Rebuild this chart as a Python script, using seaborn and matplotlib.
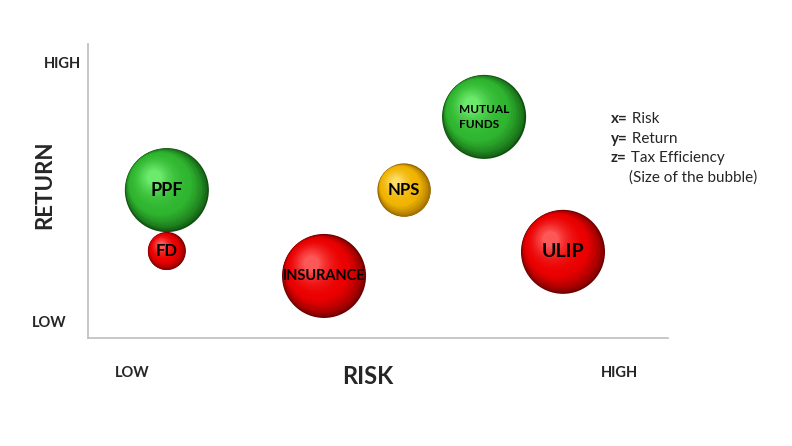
import numpy as np
import pandas as pd
import matplotlib
matplotlib.use('Agg')
import matplotlib.pyplot as plt
import matplotlib.transforms as mtransforms
from matplotlib.colors import to_rgb
import seaborn as sns

products = ['PPF', 'FD', 'INSURANCE', 'NPS', 'MUTUAL\nFUNDS', 'ULIP']
risk = [1.36, 1.36, 4.07, 5.45, 6.83, 8.19]
ret = [5.03, 2.96, 2.11, 5.03, 7.52, 2.93]
tax_eff = [5, 1, 5, 2, 5, 5]
colour = ['green', 'red', 'red', 'yellow', 'green', 'red']
label_size = [13, 12, 10.5, 12, 8.5, 14]

shades = {
    'green': ('#0f4f0f', '#2fb52f', '#70ee70'),
    'red': ('#6a0000', '#ea0000', '#ff6060'),
    'yellow': ('#8a5c00', '#f0b400', '#ffe070'),
}

df = pd.DataFrame({'product': products, 'risk': risk, 'ret': ret,
                   'tax_eff': tax_eff, 'colour': colour})

sns.set_style('white')
plt.rcParams['font.family'] = ['Lato', 'DejaVu Sans']

fig = plt.figure(figsize=(7.92, 4.46), dpi=100)
ax = fig.add_axes([0.1111, 0.2422, 0.7323, 0.6592])

base_pal = {k: v[0] for k, v in shades.items()}
sns.scatterplot(data=df, x='risk', y='ret', size='tax_eff', sizes=(750, 3660),
                hue='colour', palette=base_pal, linewidth=0, legend=False, ax=ax, zorder=2)
sizes = ax.collections[0].get_sizes()

# fake 3d shading: shrinking circles moving to the upper left
n = 32
for i, row in df.iterrows():
    s = sizes[i]
    r_pt = np.sqrt(s) / 2
    dark, mid, light = [np.array(to_rgb(c)) for c in shades[row['colour']]]
    for k in range(1, n):
        t = k / n
        if t < 0.3:
            c = dark + (mid - dark) * (t / 0.3) ** 0.6
        else:
            c = mid + (light - mid) * ((t - 0.3) / 0.7) ** 1.8
        f = 1 - 0.85 * t
        d = 0.45 * (1 - (1 - t) ** 2) * r_pt / 72 * 0.707
        tr = ax.transData + mtransforms.ScaledTranslation(-d, d, fig.dpi_scale_trans)
        ax.scatter([row['risk']], [row['ret']], s=s * f ** 2, color=c,
                   linewidths=0, transform=tr, zorder=3 + k)
    ax.text(row['risk'], row['ret'], row['product'], ha='center', va='center',
            ma='left', fontsize=label_size[i], fontweight='bold', color='black',
            zorder=100, linespacing=1.5)

ax.set_xlim(0, 10)
ax.set_ylim(0, 10)
ax.set_xticks([])
ax.set_yticks([])
ax.set_xlabel('')
ax.set_ylabel('')
for side in ['top', 'right']:
    ax.spines[side].set_visible(False)
for side in ['left', 'bottom']:
    ax.spines[side].set_color('#bdbdbd')
    ax.spines[side].set_linewidth(1.2)

fig.text(62 / 792, 1 - 64 / 446, 'HIGH', ha='center', va='center', fontsize=10.5, fontweight='bold')
fig.text(49 / 792, 1 - 323 / 446, 'LOW', ha='center', va='center', fontsize=10.5, fontweight='bold')
fig.text(132 / 792, 1 - 373 / 446, 'LOW', ha='center', va='center', fontsize=10.5, fontweight='bold')
fig.text(619 / 792, 1 - 373 / 446, 'HIGH', ha='center', va='center', fontsize=10.5, fontweight='bold')
fig.text(368 / 792, 1 - 376 / 446, 'RISK', ha='center', va='center', fontsize=17, fontweight='bold')
fig.text(45 / 792, 1 - 185 / 446, 'RETURN', ha='center', va='center', fontsize=16,
         fontweight='bold', rotation=90)

legend_rows = [('x=', ' Risk'), ('y=', ' Return'), ('z=', ' Tax Efficiency')]
for j, (a, b) in enumerate(legend_rows):
    y = 1 - (119 + 19.7 * j) / 446
    t1 = fig.text(611 / 792, y, a, ha='left', va='center', fontsize=11, fontweight='bold')
    fig.canvas.draw()
    bb = t1.get_window_extent()
    fig.text(bb.x1 / 792, y, b, ha='left', va='center', fontsize=11)
fig.text(629 / 792, 1 - 178 / 446, '(Size of the bubble)', ha='left', va='center', fontsize=11)

fig.savefig('out.png', dpi=100)
